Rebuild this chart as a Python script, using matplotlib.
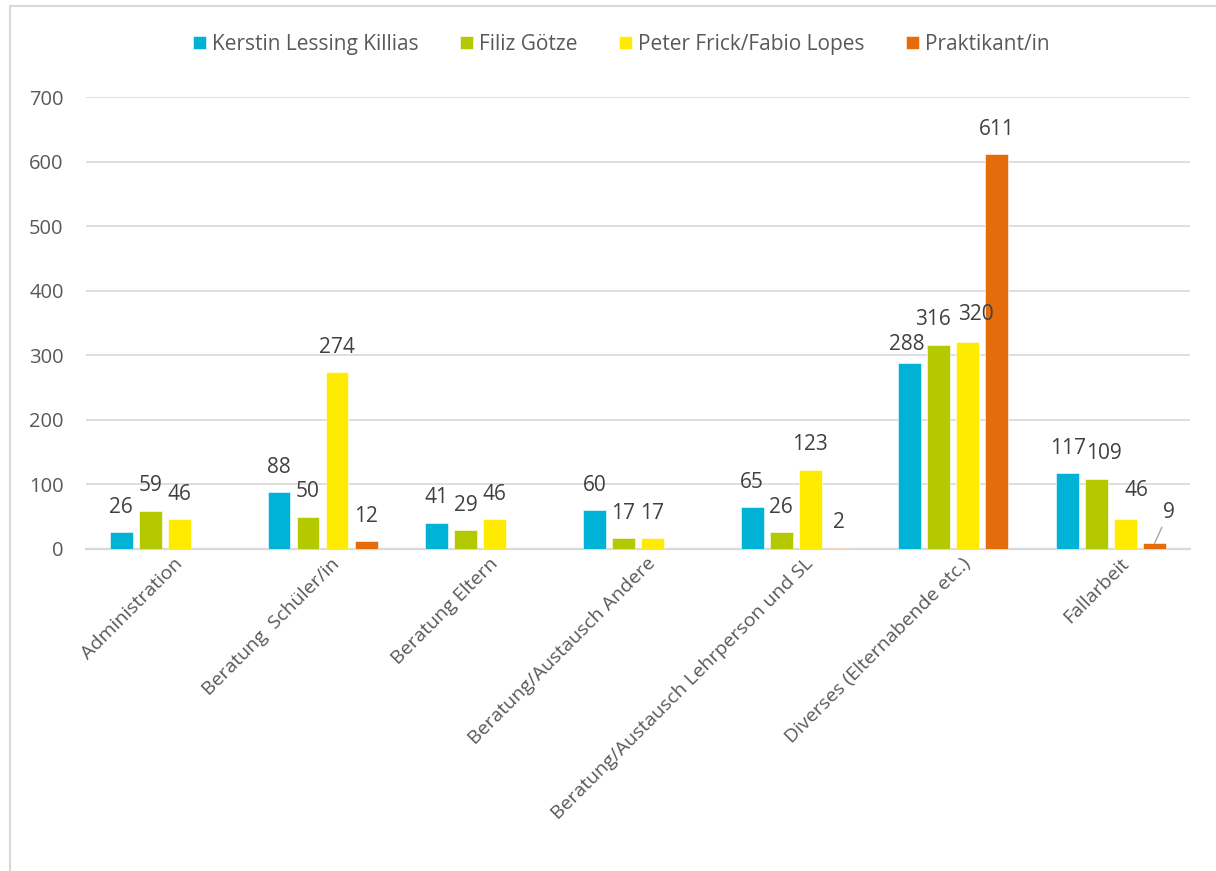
import matplotlib

matplotlib.use("Agg")

import matplotlib.pyplot as plt
import matplotlib.transforms as mtransforms
import numpy as np
from matplotlib.patches import Rectangle

CATEGORIES = [
    "Administration",
    "Beratung  Schüler/in",
    "Beratung Eltern",
    "Beratung/Austausch Andere",
    "Beratung/Austausch Lehrperson und SL",
    "Diverses (Elternabende etc.)",
    "Fallarbeit",
]
KERSTIN = [26, 88, 41, 60, 65, 288, 117]
FILIZ = [59, 50, 29, 17, 26, 316, 109]
PETER = [46, 274, 46, 17, 123, 320, 46]
PRAKTIKANT = [np.nan, 12, np.nan, np.nan, 2, 611, 9]

SERIES_NAMES = ["Kerstin Lessing Killias", "Filiz Götze", "Peter Frick/Fabio Lopes", "Praktikant/in"]
COLORS = ["#00B3D6", "#B4C900", "#FFEB00", "#E46C0A"]
Y_TICKS = [0, 100, 200, 300, 400, 500, 600, 700]

TEXT_DARK = "#404040"
TEXT_AXIS = "#595959"
GRID = "#D9D9D9"

# hand-placed label nudges (series index, category index) -> (dx, dy) in points
LABEL_NUDGE = {
    (0, 5): (-2, 13),
    (1, 5): (-4, 18),
    (2, 5): (6, 20),
    (1, 6): (5, 18),
    (2, 6): (8, 21),
    (3, 6): (10, 22),
}

plt.rcParams["font.family"] = ["Open Sans", "DejaVu Sans"]

fig = plt.figure(figsize=(12.16, 8.71), dpi=100)
ax = fig.add_axes([0.0707, 0.3697, 0.9079, 0.5189])

series = [KERSTIN, FILIZ, PETER, PRAKTIKANT]
x = np.arange(len(CATEGORIES))
pitch = 0.184
width = 0.145

for i, (name, vals, color) in enumerate(zip(SERIES_NAMES, series, COLORS)):
    vals = np.asarray(vals, dtype=float)
    pos = x + (i - 1.5) * pitch
    ax.bar(pos, vals, width=width, color=color, edgecolor="white", linewidth=0.4, label=name, zorder=3)
    for j, (xp, v) in enumerate(zip(pos, vals)):
        if np.isnan(v):
            continue
        dx, dy = LABEL_NUDGE.get((i, j), (0, 18))
        arrow = None
        if (i, j) == (3, 6):
            # small leader line for the displaced label
            arrow = dict(arrowstyle="-", color="#A6A6A6", lw=1.0, shrinkA=1, shrinkB=0)
        ax.annotate(
            f"{int(v)}",
            xy=(xp, v),
            xytext=(dx, dy),
            textcoords="offset points",
            ha="center",
            va="center",
            fontsize=15,
            color=TEXT_DARK,
            arrowprops=arrow,
            zorder=4,
        )

ax.set_xlim(-0.5, len(CATEGORIES) - 0.5)
ax.set_ylim(0, 700)
ax.set_yticks(Y_TICKS)
ax.yaxis.grid(True, color=GRID, lw=1.2, zorder=0)
ax.set_axisbelow(True)
for side in ("top", "right", "left"):
    ax.spines[side].set_visible(False)
ax.spines["bottom"].set_color(GRID)
ax.spines["bottom"].set_linewidth(1.6)
ax.tick_params(axis="y", length=0, pad=16, labelsize=14.5, labelcolor=TEXT_AXIS)
ax.tick_params(axis="x", length=0, pad=4, labelsize=14, labelcolor=TEXT_AXIS)
ax.set_xticks(x)
ax.set_xticklabels(CATEGORIES, rotation=45, ha="right", rotation_mode="anchor")
shift = mtransforms.ScaledTranslation(6 / 72, 0, fig.dpi_scale_trans)
for lbl in ax.get_xticklabels():
    lbl.set_transform(lbl.get_transform() + shift)

handles, labels = ax.get_legend_handles_labels()
fig.legend(
    handles,
    labels,
    loc="center",
    bbox_to_anchor=(0.511, 0.949),
    ncol=4,
    frameon=False,
    labelcolor=TEXT_AXIS,
    handlelength=0.6,
    handleheight=0.6,
    handletextpad=0.3,
    columnspacing=2.0,
    prop={"size": 15},
)

# outer chart frame (runs past the right and bottom edge)
fig.patches.append(
    Rectangle((10 / 1216, -0.05), 1.1, 1 - 6 / 871 + 0.05, transform=fig.transFigure,
              fill=False, edgecolor=GRID, lw=1.5)
)

fig.savefig("out.png", dpi=100)
